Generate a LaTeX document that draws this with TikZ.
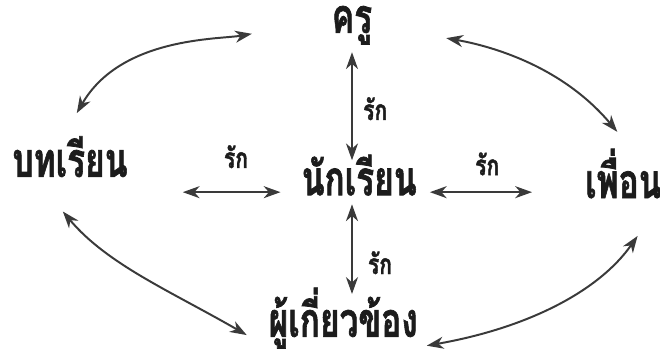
\documentclass[tikz,border=0pt]{standalone}
\usepackage{fontspec}
\newfontfamily\thaifont[Script=Thai,BoldFeatures={FakeBold=1.6}]{Loma}
\usetikzlibrary{arrows.meta}
\definecolor{ink}{HTML}{1C1C1C}
\definecolor{wire}{HTML}{3A3A3A}
\tikzset{
 every node/.append style={text=ink,inner sep=1pt},
 role/.style={font=\thaifont\bfseries\fontsize{34}{38}\selectfont,anchor=base,xscale=.7,transform shape},
 love/.style={font=\thaifont\bfseries\fontsize{20}{23}\selectfont,anchor=base,xscale=.75,transform shape},
 link/.style={{Stealth[length=4.2mm,width=3mm,inset=1.3mm]}-{Stealth[length=4.2mm,width=3mm,inset=1.3mm]},draw=wire,line width=1.4pt},
}

\begin{document}
\begin{tikzpicture}
\useasboundingbox (0,0) rectangle (16.5,-8.95);

% the five roles
\node[role] (khru) at (8.8,-0.82) {ครู};
\node[role] (lesson) at (1.75,-4.42) {บทเรียน};
\node[role] (student) at (8.98,-4.88) {นักเรียน};
\node[role,anchor=base west] (friend) at (14.6,-4.95) {เพื่อน};
\node[role] (related) at (8.58,-8.42) {ผู้เกี่ยวข้อง};

% love labels
\node[love] (loveL) at (5.9,-4.2) {รัก};
\node[love] (loveR) at (12.18,-4.38) {รัก};
\node[love] (loveT) at (9.38,-3.0) {รัก};
\node[love] (loveB) at (9.5,-6.85) {รัก};

% straight links round the student
\draw[link,shorten <=1.35cm,shorten >=.5cm] (lesson.east |- student.mid) -- (student.mid west);
\draw[link,shorten <=.3cm,shorten >=1.3cm] (student.mid east) -- (student.mid -| friend.west);
\draw[link,shorten <=.15cm,shorten >=-.18cm] (khru.south -| khru) -- (student.north -| khru);
\draw[link,shorten <=.18cm,shorten >=-.2cm] (student.south -| khru) -- (related.north -| khru);

% outer ring
\draw[link,shorten <=.62cm,shorten >=2cm] (lesson.110) to[out=60,in=190] (khru.170);
\draw[link,shorten <=1.85cm,shorten >=.5cm] (khru.east) to[out=-10,in=130] (friend.70);
\draw[link,shorten <=1.07cm,shorten >=.6cm] (lesson.204) to[out=-50,in=150] (related.195);
\draw[link,shorten <=.2cm,shorten >=1.1cm] (related.-15) to[out=10,in=235] (friend.south east);
\end{tikzpicture}
\end{document}
